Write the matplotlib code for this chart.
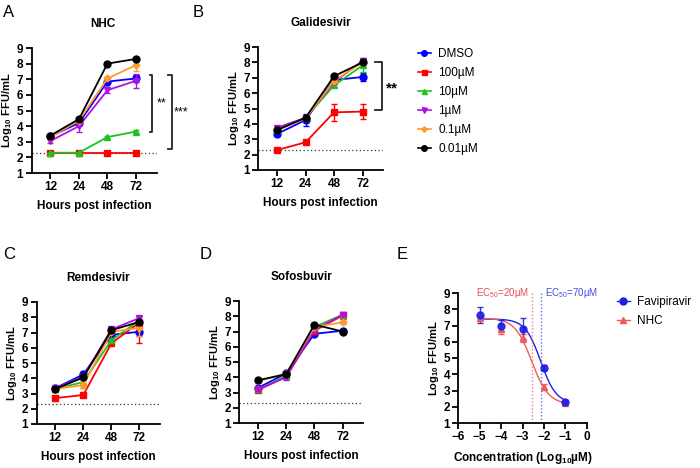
import numpy as np
import matplotlib
matplotlib.use('Agg')
import matplotlib.pyplot as plt
from matplotlib.lines import Line2D

plt.rcParams['font.family'] = ['Liberation Sans', 'DejaVu Sans']
plt.rcParams['mathtext.fontset'] = 'custom'
plt.rcParams['mathtext.rm'] = 'Liberation Sans'
plt.rcParams['mathtext.bf'] = 'Liberation Sans:bold'
plt.rcParams['mathtext.it'] = 'Liberation Sans:italic'

# time course data (rows follow `groups`)
hours = ['12', '24', '48', '72']
groups = ['DMSO', '100µM', '10µM', '1µM', '0.1µM', '0.01µM']

nhc_mean = [[3.35, 4.2, 6.85, 7.05],
            [2.3, 2.3, 2.3, 2.3],
            [2.3, 2.3, 3.3, 3.65],
            [3.05, 4.0, 6.3, 6.9],
            [3.3, 4.35, 7.05, 7.9],
            [3.4, 4.45, 8.0, 8.3]]
nhc_err = [[0.1, 0.15, 0.15, 0.2],
           [0.0, 0.0, 0.0, 0.0],
           [0.0, 0.0, 0.1, 0.1],
           [0.15, 0.35, 0.2, 0.45],
           [0.1, 0.1, 0.1, 0.4],
           [0.1, 0.1, 0.1, 0.1]]

gal_mean = [[3.35, 4.25, 6.85, 7.05],
            [2.3, 2.8, 4.75, 4.8],
            [3.6, 4.4, 6.5, 7.8],
            [3.75, 4.4, 6.7, 8.1],
            [3.6, 4.35, 6.8, 8.0],
            [3.6, 4.4, 7.1, 8.0]]
gal_err = [[0.1, 0.4, 0.15, 0.25],
           [0.05, 0.1, 0.55, 0.5],
           [0.1, 0.1, 0.1, 0.4],
           [0.1, 0.1, 0.1, 0.2],
           [0.1, 0.1, 0.1, 0.1],
           [0.05, 0.05, 0.05, 0.05]]

rem_mean = [[3.35, 4.25, 6.85, 7.05],
            [2.7, 2.9, 6.3, 7.65],
            [3.3, 3.75, 6.5, 7.8],
            [3.35, 4.1, 7.2, 7.95],
            [3.3, 3.55, 7.05, 7.3],
            [3.3, 4.05, 7.15, 7.7]]
rem_err = [[0.1, 0.15, 0.15, 0.3],
           [0.15, 0.15, 0.1, 1.35],
           [0.1, 0.4, 0.1, 0.2],
           [0.1, 0.1, 0.1, 0.15],
           [0.1, 0.2, 0.1, 0.5],
           [0.1, 0.1, 0.1, 0.1]]
rem_err_up = [[0.1, 0.15, 0.15, 0.3],
              [0.15, 0.15, 0.1, 0.2],
              [0.1, 0.4, 0.1, 0.2],
              [0.1, 0.1, 0.1, 0.15],
              [0.1, 0.2, 0.1, 0.5],
              [0.1, 0.1, 0.1, 0.1]]

sof_mean = [[3.3, 4.25, 6.85, 7.05],
            [3.15, 4.05, 7.05, 8.05],
            [3.2, 4.1, 7.3, 8.1],
            [3.2, 4.0, 7.1, 8.1],
            [3.75, 4.25, 7.3, 7.6],
            [3.8, 4.2, 7.45, 7.0]]
sof_err = [[0.1, 0.1, 0.1, 0.1],
           [0.1, 0.1, 0.1, 0.2],
           [0.1, 0.1, 0.1, 0.1],
           [0.1, 0.15, 0.1, 0.1],
           [0.1, 0.1, 0.1, 0.1],
           [0.1, 0.1, 0.1, 0.1]]

limit_of_detection = 2.3

# dose response data (panel E)
log_conc = [-5, -4, -3, -2, -1]
favi_mean = [7.66, 7.0, 6.8, 4.4, 2.3]
favi_err = [0.5, 0.35, 0.65, 0.15, 0.05]
nhc_dr_mean = [7.47, 6.79, 6.22, 3.23, 2.25]
nhc_dr_err = [0.1, 0.3, 0.25, 0.2, 0.05]
# 4PL fit parameters: top, bottom, logEC50, hill
favi_fit = [7.4, 2.2, -2.15, 1.2]
nhc_fit = [7.45, 2.15, -2.57, 1.1]

colors = ['#0000ff', '#ff0000', '#1fc01f', '#b010e8', '#ff9a2e', '#000000']
markers = ['o', 's', '^', 'v', 'D', 'o']
msizes = [5, 4.5, 4.5, 4.5, 3.5, 5]
draw_order = [5, 4, 3, 2, 0, 1]

W, H = 700, 468
fig = plt.figure(figsize=(7, 4.68), dpi=100)


def px_axes(l, t, r, b):
    return fig.add_axes([l / W, 1 - b / H, (r - l) / W, (b - t) / H])


def style(ax):
    for s in ['top', 'right']:
        ax.spines[s].set_visible(False)
    for s in ['left', 'bottom']:
        ax.spines[s].set_linewidth(1.3)
    ax.tick_params(width=1.3, length=4, labelsize=8.5, pad=2)
    for lab in ax.get_xticklabels() + ax.get_yticklabels():
        lab.set_fontweight('bold')
    ax.set_ylim(1, 9)
    ax.set_yticks(range(1, 10))
    ax.set_ylabel(r'$\mathbf{Log_{10}\ FFU/mL}$', fontsize=8, labelpad=2)


def time_panel(ax, title, means, errs, errs_up=None, title_x=0.5):
    if errs_up is None:
        errs_up = errs
    x = np.arange(len(hours))
    ax.axhline(limit_of_detection, color='#333333', ls=(0, (1, 2)), lw=0.9, zorder=1)
    for i in draw_order:
        ax.errorbar(x, means[i], yerr=[errs[i], errs_up[i]], color=colors[i],
                    marker=markers[i], ms=msizes[i], lw=1.3, capsize=2.5,
                    elinewidth=1.0, zorder=3 + i)
    ax.set_xticks(x)
    ax.set_xticklabels(hours)
    ax.set_xlim(-0.66, 3.73)
    style(ax)
    ax.set_title(title, fontsize=8.5, fontweight='bold', pad=15, x=title_x)
    ax.set_xlabel('Hours post infection', fontsize=8.5, fontweight='bold', labelpad=5)


axA = px_axes(31.7, 48, 156.7, 173)
time_panel(axA, 'NHC', nhc_mean, nhc_err, title_x=0.57)
axB = px_axes(258.3, 47, 383.3, 170)
time_panel(axB, 'Galidesivir', gal_mean, gal_err)
axC = px_axes(36.7, 302, 160, 424)
time_panel(axC, 'Remdesivir', rem_mean, rem_err, rem_err_up)
axD = px_axes(239.3, 301, 363.3, 423)
time_panel(axD, 'Sofosbuvir', sof_mean, sof_err)

# significance brackets
br = dict(color='#222222', lw=1.3, clip_on=False)
axA.plot([3.49, 3.56, 3.56, 3.49], [7.27, 7.27, 3.64, 3.64], **br)
axA.plot([4.13, 4.25, 4.25, 4.13], [7.27, 7.27, 2.52, 2.52], **br)
axA.text(3.9, 5.45, '**', fontsize=9, ha='center', va='center')
axA.text(4.6, 4.85, '***', fontsize=9, ha='center', va='center')
axB.plot([3.43, 3.70, 3.70, 3.43], [8.02, 8.02, 4.9, 4.9], **br)
axB.text(4.05, 6.3, '**', fontsize=11, fontweight='bold', ha='center', va='center')

# legend for time course panels
handles = [Line2D([], [], color=colors[i], marker=markers[i], ms=msizes[i] * 0.8, lw=1.2)
           for i in range(len(groups))]
fig.legend(handles, groups, loc='upper left', bbox_to_anchor=(418 / W, 1 - 48 / H),
           frameon=False, fontsize=8.5, handlelength=1.1, handletextpad=0.6,
           labelspacing=0.6, borderaxespad=0, borderpad=0)

# panel E: dose response
axE = px_axes(458.3, 293, 586.7, 423)
xs = np.linspace(-5, -1, 200)


def four_pl(x, p):
    top, bottom, ec, hill = p
    return bottom + (top - bottom) / (1 + 10 ** ((x - ec) * hill))


favi_col = '#1e1ee6'
nhc_col = '#f05a5a'
axE.plot(xs, four_pl(xs, favi_fit), color=favi_col, lw=1.0)
axE.plot(xs, four_pl(xs, nhc_fit), color=nhc_col, lw=1.0)
axE.errorbar(log_conc, nhc_dr_mean, yerr=nhc_dr_err, color=nhc_col, marker='^', ms=4.5,
             ls='none', capsize=2.5, elinewidth=1.0)
axE.errorbar(log_conc, favi_mean, yerr=favi_err, color=favi_col, marker='o', ms=5,
             ls='none', capsize=2.5, elinewidth=1.0, alpha=0.9)
axE.axvline(nhc_fit[2], color='#f08080', ls=(0, (1, 1.5)), lw=1.0)
axE.axvline(favi_fit[2], color='#6a6af0', ls=(0, (1, 1.5)), lw=1.0)
axE.text(-3.95, 9.0, r'EC$_{50}$=20µM', color='#e05050', fontsize=7, ha='center', va='center')
axE.text(-0.7, 9.0, r'EC$_{50}$=70µM', color='#4a4ae0', fontsize=7, ha='center', va='center')
axE.set_xlim(-6, 0)
axE.set_xticks(range(-6, 1))
style(axE)
axE.set_xlabel(r'$\mathbf{Concentration\ (Log_{10}µM)}$', fontsize=8.5, labelpad=5)
e_handles = [Line2D([], [], color=favi_col, marker='o', ms=5, lw=1.0),
             Line2D([], [], color=nhc_col, marker='^', ms=5, lw=1.0)]
fig.legend(e_handles, ['Favipiravir', 'NHC'], loc='upper left',
           bbox_to_anchor=(617 / W, 1 - 296 / H), frameon=False, fontsize=8.5,
           handlelength=1.1, handletextpad=0.6, labelspacing=0.6, borderaxespad=0,
           borderpad=0)

# panel letters
for letter, x, y in [('A', 3, 5), ('B', 193, 5), ('C', 3, 247), ('D', 200, 247), ('E', 397, 247)]:
    fig.text(x / W, 1 - y / H, letter, fontsize=12, va='top', ha='left')

fig.savefig('out.png', dpi=100)
